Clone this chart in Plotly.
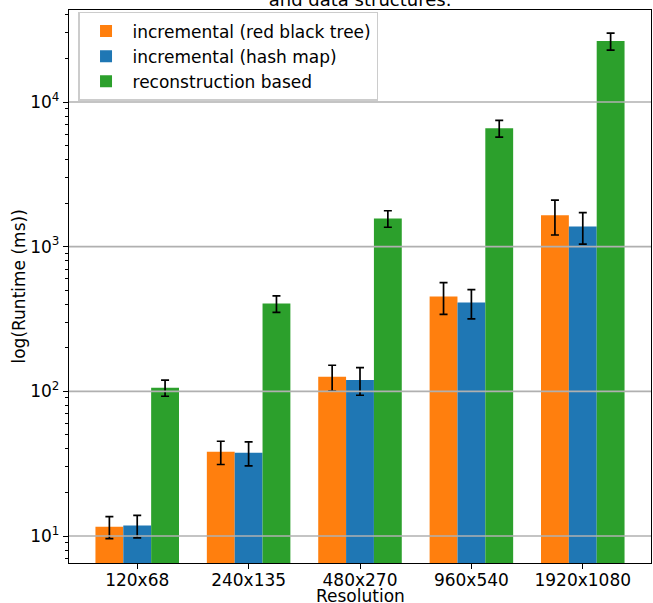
import plotly.graph_objects as go

resolutions = ["120x68", "240x135", "480x270", "960x540", "1920x1080"]

rbt_mean = [11.6, 38.2, 126, 452, 1652]
rbt_err = [2.0, 7.0, 25.5, 112, 448]

hash_mean = [11.8, 37.6, 120, 411, 1380]
hash_err = [2.1, 7.1, 26, 94, 340]

recon_mean = [106, 404, 1567, 6590, 26400]
recon_err = [13.5, 53, 205, 880, 3550]

series_names = ["incremental (red black tree)", "incremental (hash map)", "reconstruction based"]
colors = ["#ff7f0e", "#1f77b4", "#2ca02c"]
grid_values = [10, 100, 1000, 10000]
grid_labels = ["10<sup>1</sup>", "10<sup>2</sup>", "10<sup>3</sup>", "10<sup>4</sup>"]

FONT = "DejaVu Sans"
FS = 17

fig = go.Figure()
for i, (name, m, e, c) in enumerate(zip(series_names, [rbt_mean, hash_mean, recon_mean],
                                        [rbt_err, hash_err, recon_err], colors)):
    fig.add_trace(go.Bar(
        x=list(range(len(resolutions))), y=m, name=name, legendgroup=f"g{i}",
        marker=dict(color=c, line=dict(width=0)),
        error_y=dict(type="data", array=e, visible=True, color="black", thickness=1.7, width=4),
    ))

for g in grid_values:
    fig.add_shape(type="line", xref="paper", x0=0, x1=1, yref="y", y0=g, y1=g,
                  line=dict(color="#b0b0b0", width=1.7), layer="above")

fig.update_layout(
    width=653, height=603,
    margin=dict(l=69, r=2, t=10, b=40),
    paper_bgcolor="white", plot_bgcolor="white",
    barmode="group", bargap=0.25, bargroupgap=0,
    font=dict(family=FONT, size=FS, color="black"),
    showlegend=True,
    title=dict(text="and data structures.", x=0.5514, xanchor="center", xref="container",
               y=1.0, yref="container", yanchor="middle", automargin=False,
               font=dict(family=FONT, size=18)),
    legend=dict(x=0.0155, y=0.9964, xanchor="left", yanchor="top",
                bgcolor="rgba(255,255,255,0.8)", bordercolor="#cccccc", borderwidth=1.5,
                font=dict(family=FONT, size=FS), tracegroupgap=0, itemwidth=43),
    annotations=[
        dict(text="Resolution", xref="paper", yref="paper", x=0.5, y=0,
             xanchor="center", yanchor="middle", yshift=-33, showarrow=False,
             font=dict(family=FONT, size=FS)),
        dict(text="log(Runtime (ms))", xref="paper", yref="paper", x=0, y=0.5,
             xanchor="center", yanchor="middle", xshift=-51, textangle=-90, showarrow=False,
             font=dict(family=FONT, size=FS)),
    ],
)

fig.update_xaxes(
    tickmode="array", tickvals=list(range(len(resolutions))), ticktext=resolutions,
    range=[-0.6125, 4.6125], showgrid=False, showline=True, linecolor="black", linewidth=1.4,
    mirror=True, ticks="outside", ticklen=5, tickcolor="black", automargin=False,
    ticklabelstandoff=-4,
)
fig.update_yaxes(
    type="log", range=[0.8134, 4.636], tickmode="array", tickvals=grid_values, ticktext=grid_labels,
    showgrid=False, showline=True, linecolor="black", linewidth=1.4, mirror=True,
    ticks="outside", ticklen=5, tickcolor="black", automargin=False,
    minor=dict(ticks="outside", ticklen=2.5, tickcolor="black", showgrid=False,
               tickvals=[v * k for v in [1, 10, 100, 1000, 10000] for k in range(2, 10)]),
)

fig.write_html("out.html", config={"displayModeBar": False},
               post_script="document.body.style.margin='0';")
